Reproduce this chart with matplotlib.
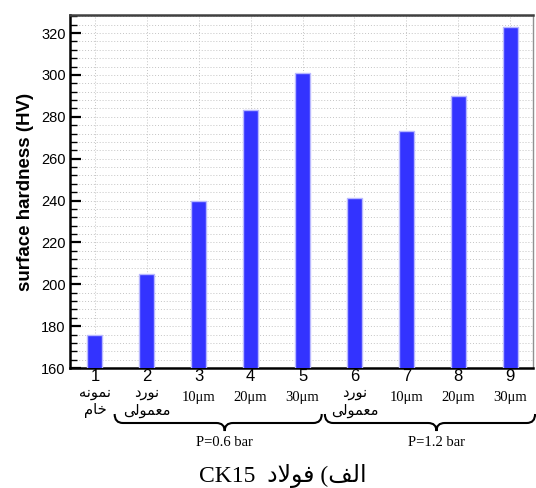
import matplotlib
matplotlib.use("Agg")
import matplotlib.pyplot as plt
from matplotlib.path import Path
from matplotlib.patches import PathPatch
from matplotlib.ticker import AutoMinorLocator
from matplotlib.transforms import blended_transform_factory

# surface hardness of CK15 steel samples
samples = [1, 2, 3, 4, 5, 6, 7, 8, 9]
hardness = [176, 205, 240, 283, 301, 241, 273, 290, 323]
sizes = ["", "", "10\u03bcm", "20\u03bcm", "30\u03bcm", "", "10\u03bcm", "20\u03bcm", "30\u03bcm"]
# Persian labels, written in visual (left-to-right) order with presentation forms
fa_labels = {1: ("\ufeea\ufee7\ufeee\ufee4\ufee7", "\ufee1\ufe8e\ufea7"),
             2: ("\ufea9\ufead\ufeee\ufee7", "\ufbfd\ufedf\ufeee\ufee4\ufecc\ufee3"),
             6: ("\ufea9\ufead\ufeee\ufee7", "\ufbfd\ufedf\ufeee\ufee4\ufecc\ufee3")}
groups = [("P=0.6 bar", 1.38, 5.37, 3.5), ("P=1.2 bar", 5.43, 9.48, 7.58)]
title = "CK15  \ufea9\ufefb\ufeee\ufed3 (\ufed2\ufedf\ufe8d"

sans = ["Liberation Sans", "DejaVu Sans"]
serif = ["Liberation Serif", "DejaVu Sans"]

fig = plt.figure(figsize=(5.36, 4.88), dpi=100)
ax = fig.add_axes([70 / 536, 120 / 488, 463 / 536, 353 / 488])

ax.bar(samples, hardness, width=0.29, color="#3333ff", edgecolor="#b8b8ff",
       linewidth=1, zorder=3)

ax.set_xlim(0.52, 9.44)
ax.set_ylim(160, 328.6)
ax.set_yticks(range(160, 321, 20))
ax.yaxis.set_minor_locator(AutoMinorLocator(5))
ax.set_xticks(samples)
ax.set_xticklabels([str(s) for s in samples], fontsize=12, family=sans)
for lab in ax.get_yticklabels():
    lab.set_fontsize(10.5)
    lab.set_family(sans)

ax.tick_params(axis="y", which="major", direction="in", length=8, width=1.6, pad=3)
ax.tick_params(axis="y", which="minor", direction="in", length=5, width=1)
ax.tick_params(axis="x", which="major", direction="in", length=9, width=1.5, pad=1)
ax.tick_params(top=False, right=False)

ax.grid(True, which="both", axis="y", ls=(0, (1, 2)), color="#c4c4c4", lw=0.7, zorder=0)
ax.grid(True, which="major", axis="x", ls=(0, (1, 2)), color="#c4c4c4", lw=0.7, zorder=0)

ax.spines["left"].set_linewidth(1.8)
ax.spines["bottom"].set_linewidth(1.8)
ax.spines["top"].set_linewidth(1.8)
ax.spines["top"].set_color("#404040")
ax.spines["right"].set_linewidth(1)
ax.spines["right"].set_color("#909090")

ax.set_ylabel("surface hardness (HV)", fontsize=13.5, fontweight="bold", family=sans, labelpad=5)

# second line under the sample numbers
for s, txt in zip(samples, sizes):
    if txt:
        ax.annotate(txt, xy=(s, 0), xycoords=("data", "axes fraction"),
                    xytext=(0, -29), textcoords="offset pixels",
                    ha="center", va="center", fontsize=10.5, family=serif)
for s, (l1, l2) in fa_labels.items():
    for txt, dy in ((l1, -25), (l2, -42)):
        ax.annotate(txt, xy=(s, 0), xycoords=("data", "axes fraction"),
                    xytext=(0, dy), textcoords="offset pixels",
                    ha="center", va="center", fontsize=10.5, family=["DejaVu Sans"])

# braces under the pressure groups
tr = blended_transform_factory(ax.transData, fig.transFigure)
y_end = (488 - 414) / 488
y_mid = (488 - 423) / 488
y_tip = (488 - 431) / 488
r = 0.16
for label, x0, x1, xm in groups:
    verts = [(x0, y_end), (x0, y_mid), (x0 + r, y_mid),
             (xm - r, y_mid), (xm, y_mid), (xm, y_tip),
             (xm, y_mid), (xm + r, y_mid),
             (x1 - r, y_mid), (x1, y_mid), (x1, y_end)]
    codes = [Path.MOVETO, Path.CURVE3, Path.CURVE3,
             Path.LINETO, Path.CURVE3, Path.CURVE3,
             Path.CURVE3, Path.CURVE3,
             Path.LINETO, Path.CURVE3, Path.CURVE3]
    ax.add_patch(PathPatch(Path(verts, codes), transform=tr, fill=False,
                           lw=1.5, color="black", clip_on=False))
    ax.text(xm, (488 - 442) / 488, label, transform=tr, ha="center", va="center",
            fontsize=10.5, family=serif)

fig.text(283 / 536, (488 - 476) / 488, title, ha="center", va="center",
         fontsize=17, family=serif)

fig.savefig("out.png", dpi=100)
